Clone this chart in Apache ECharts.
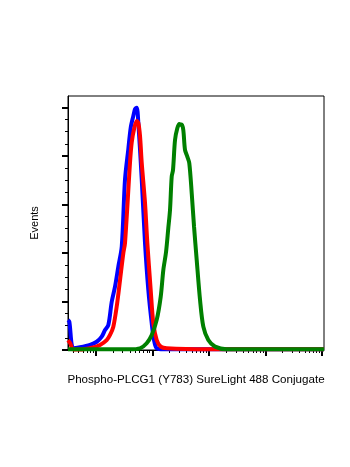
<!DOCTYPE html>
<html>
<head>
<meta charset="utf-8">
<script src="https://cdn.jsdelivr.net/npm/echarts@6/dist/echarts.min.js"></script>
<style>
html, body { margin: 0; padding: 0; background: #fff; }
#chart { width: 350px; height: 467px; }
</style>
</head>
<body>
<div id="chart"></div>
<script>
// x values are log10 of fluorescence intensity, y values are event counts
var blueX = [0.51, 0.533, 0.604, 0.722, 0.899, 1.018, 1.106, 1.164, 1.223, 1.283, 1.341, 1.399, 1.46, 1.518, 1.576, 1.619, 1.665, 1.695, 1.725, 1.753, 1.813, 1.871, 1.93, 1.99, 2.03, 2.078, 2.2, 3.0, 4.0, 5.035];
var blueY = [12.4, 11.7, 0.7, 1.1, 2.1, 3.4, 5.5, 8.2, 10.3, 19.9, 26.1, 34.3, 42.6, 70.4, 82.8, 91.7, 96.5, 99.3, 99.9, 93.7, 70.4, 44.2, 24.7, 11.0, 4.1, 0.7, 0.3, 0.3, 0.3, 0.3];

var redX = [0.51, 0.546, 0.604, 0.722, 0.958, 1.076, 1.194, 1.253, 1.311, 1.371, 1.43, 1.488, 1.518, 1.606, 1.636, 1.677, 1.725, 1.753, 1.783, 1.813, 1.871, 1.912, 1.972, 2.018, 2.078, 2.149, 2.255, 3.0, 4.0, 5.035];
var redY = [4.0, 2.9, 0.2, 0.2, 1.1, 2.1, 4.1, 6.2, 9.6, 17.9, 28.9, 39.9, 44.2, 77.2, 85.5, 91.0, 94.4, 93.6, 88.2, 77.2, 60.7, 44.2, 24.7, 11.0, 4.1, 1.4, 0.7, 0.3, 0.3, 0.3];

var greenX = [0.51, 1.606, 1.783, 1.901, 1.99, 2.078, 2.149, 2.195, 2.243, 2.283, 2.313, 2.343, 2.366, 2.402, 2.442, 2.478, 2.502, 2.52, 2.548, 2.578, 2.619, 2.654, 2.697, 2.738, 2.785, 2.844, 2.902, 2.99, 3.109, 3.315, 4.0, 5.035];
var greenY = [0.3, 0.3, 0.7, 2.8, 6.2, 12.4, 22.0, 33.0, 40.4, 50.3, 57.7, 71.5, 74.2, 86.6, 91.4, 93.2, 92.8, 93.0, 90.7, 82.5, 79.7, 77.0, 64.6, 50.8, 37.1, 20.6, 9.6, 4.1, 1.4, 0.3, 0.3, 0.3];

var xMajorTicks = [1, 2, 3, 4, 5];
var yMajorTicks = [0, 20, 40, 60, 80, 100];
var yMinorTicks = [5, 10, 15, 25, 30, 35, 45, 50, 55, 65, 70, 75, 85, 90, 95];

var xMin = 0.51, xMax = 5.035;
var yMin = 0, yMax = 104.7;

// log minor ticks for each decade
var xMinorTicks = [];
for (var d = 0; d <= 5; d++) {
    for (var k = 2; k <= 9; k++) {
        var v = d + Math.log10(k);
        if (v > xMin && v < xMax) xMinorTicks.push(v);
    }
}

function pairs(xs, ys) {
    var out = [];
    for (var i = 0; i < xs.length; i++) out.push([xs[i], ys[i]]);
    return out;
}

var font = 'Liberation Sans, Arial, sans-serif';

var chart = echarts.init(document.getElementById('chart'), null, { renderer: 'canvas' });

var option = {
    backgroundColor: '#fff',
    animation: false,
    grid: {
        left: 68, right: 26, top: 96, bottom: 117,
        show: true, borderColor: '#000', borderWidth: 1
    },
    xAxis: [
        {
            type: 'value', min: xMin, max: xMax, position: 'bottom',
            name: 'Phospho-PLCG1 (Y783) SureLight 488 Conjugate',
            nameLocation: 'middle', nameGap: 24,
            nameTextStyle: { color: '#000', fontSize: 11.6, fontFamily: font },
            axisLine: { show: true, onZero: false, lineStyle: { color: '#000', width: 1 } },
            axisTick: { show: true, customValues: xMajorTicks, length: 6, lineStyle: { color: '#000', width: 2 } },
            axisLabel: { show: false },
            splitLine: { show: false }
        },
        {
            type: 'value', min: xMin, max: xMax, position: 'bottom',
            axisLine: { show: false },
            axisTick: { show: true, customValues: xMinorTicks, length: 3, lineStyle: { color: '#000', width: 1 } },
            axisLabel: { show: false },
            splitLine: { show: false }
        }
    ],
    yAxis: [
        {
            type: 'value', min: yMin, max: yMax, position: 'left',
            name: 'Events', nameLocation: 'middle', nameGap: 28,
            nameTextStyle: { color: '#000', fontSize: 11, fontFamily: font },
            axisLine: { show: true, onZero: false, lineStyle: { color: '#000', width: 1 } },
            axisTick: { show: true, customValues: yMajorTicks, length: 6, lineStyle: { color: '#000', width: 2 } },
            axisLabel: { show: false },
            splitLine: { show: false }
        },
        {
            type: 'value', min: yMin, max: yMax, position: 'left',
            axisLine: { show: false },
            axisTick: { show: true, customValues: yMinorTicks, length: 3, lineStyle: { color: '#000', width: 1 } },
            axisLabel: { show: false },
            splitLine: { show: false }
        }
    ],
    series: [
        {
            name: 'Blue', type: 'line', smooth: 0.3, showSymbol: false,
            xAxisIndex: 0, yAxisIndex: 0,
            lineStyle: { color: '#0000ff', width: 4 },
            data: pairs(blueX, blueY)
        },
        {
            name: 'Red', type: 'line', smooth: 0.3, showSymbol: false,
            xAxisIndex: 0, yAxisIndex: 0,
            lineStyle: { color: '#ff0000', width: 4 },
            data: pairs(redX, redY)
        },
        {
            name: 'Green', type: 'line', smooth: 0.3, showSymbol: false,
            xAxisIndex: 0, yAxisIndex: 0,
            lineStyle: { color: '#008000', width: 4 },
            data: pairs(greenX, greenY)
        }
    ]
};

chart.setOption(option);
</script>
</body>
</html>
